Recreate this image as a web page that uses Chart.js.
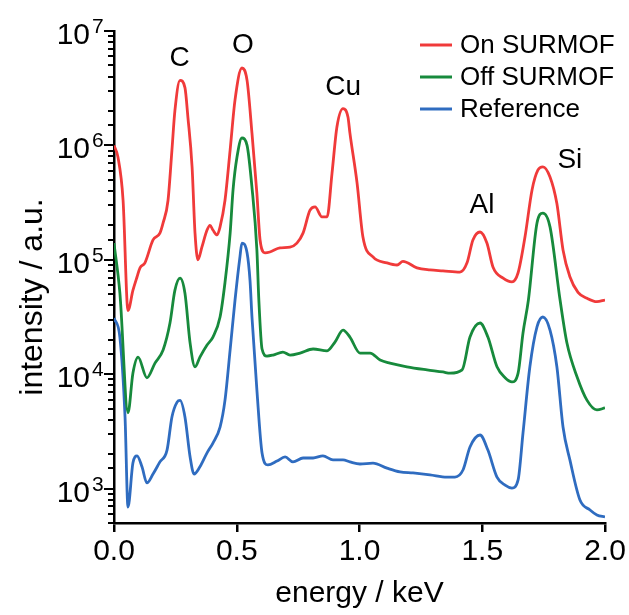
<!DOCTYPE html>
<html>
<head>
<meta charset="utf-8">
<title>EDX spectra</title>
<script src="https://cdn.jsdelivr.net/npm/chart.js@4.4.1/dist/chart.umd.min.js"></script>
<style>
  html, body { margin: 0; padding: 0; background: #fff; }
</style>
</head>
<body>
<canvas id="edsChart" width="629" height="615"></canvas>
<script>
// energy in keV, intensity in a.u.
var onEnergy = [0.000, 0.016, 0.037, 0.057, 0.077, 0.094, 0.106, 0.126, 0.159, 0.187, 0.200, 0.220, 0.236, 0.248, 0.269, 0.289, 0.301, 0.318, 0.330, 0.342, 0.358, 0.379, 0.391, 0.403, 0.420, 0.432, 0.452, 0.473, 0.493, 0.521, 0.542, 0.562, 0.582, 0.595, 0.615, 0.635, 0.676, 0.717, 0.745, 0.770, 0.798, 0.819, 0.847, 0.868, 0.888, 0.908, 0.933, 0.953, 0.961, 0.990, 1.014, 1.055, 1.112, 1.153, 1.177, 1.234, 1.287, 1.340, 1.409, 1.438, 1.462, 1.491, 1.519, 1.544, 1.585, 1.621, 1.646, 1.674, 1.703, 1.727, 1.747, 1.776, 1.804, 1.829, 1.857, 1.890, 1.927, 1.967, 2.000];
var onIntensity = [1.0e6, 7.9e5, 3.3e5, 3.6e4, 5.4e4, 7.1e4, 8.5e4, 9.4e4, 1.49e5, 1.71e5, 2.1e5, 3.3e5, 9.1e5, 2.0e6, 3.7e6, 3.2e6, 1.77e6, 6.5e5, 1.71e5, 1.0e5, 1.29e5, 1.82e5, 2.0e5, 1.82e5, 1.65e5, 1.94e5, 3.3e5, 9.1e5, 2.5e6, 4.75e6, 3.7e6, 1.28e6, 3.8e5, 1.49e5, 1.15e5, 1.17e5, 1.27e5, 1.29e5, 1.40e5, 1.71e5, 2.7e5, 2.9e5, 2.37e5, 2.37e5, 5.7e5, 1.45e6, 2.1e6, 1.77e6, 1.28e6, 4.7e5, 1.58e5, 1.06e5, 9.4e4, 9.0e4, 9.7e4, 8.5e4, 8.15e4, 8.0e4, 7.8e4, 9.4e4, 1.49e5, 1.75e5, 1.40e5, 8.6e4, 6.9e4, 6.4e4, 7.7e4, 1.58e5, 4.1e5, 6.1e5, 6.5e5, 5.3e5, 3.1e5, 1.22e5, 7.1e4, 5.2e4, 4.6e4, 4.3e4, 4.45e4];

var offEnergy = [0.000, 0.024, 0.057, 0.077, 0.098, 0.134, 0.167, 0.200, 0.228, 0.248, 0.269, 0.289, 0.310, 0.330, 0.350, 0.379, 0.403, 0.432, 0.452, 0.473, 0.485, 0.501, 0.521, 0.542, 0.562, 0.582, 0.590, 0.603, 0.623, 0.648, 0.688, 0.717, 0.758, 0.811, 0.868, 0.900, 0.933, 0.961, 1.002, 1.043, 1.084, 1.124, 1.193, 1.275, 1.340, 1.369, 1.418, 1.450, 1.491, 1.523, 1.560, 1.593, 1.621, 1.646, 1.666, 1.688, 1.723, 1.747, 1.776, 1.817, 1.845, 1.886, 1.927, 1.967, 2.000];
var offIntensity = [1.4e5, 5.1e4, 4.6e3, 1.02e4, 1.41e4, 9.3e3, 1.25e4, 1.63e4, 2.8e4, 5.4e4, 6.9e4, 5.1e4, 1.87e4, 1.16e4, 1.41e4, 1.80e4, 2.11e4, 3.16e4, 6.3e4, 1.7e5, 4.1e5, 7.9e5, 1.16e6, 1.0e6, 4.3e5, 1.22e5, 4.45e4, 1.66e4, 1.44e4, 1.47e4, 1.56e4, 1.47e4, 1.53e4, 1.66e4, 1.60e4, 1.91e4, 2.43e4, 2.11e4, 1.53e4, 1.53e4, 1.33e4, 1.25e4, 1.16e4, 1.09e4, 1.045e4, 1.02e4, 1.09e4, 2.11e4, 2.8e4, 2.11e4, 1.16e4, 9.3e3, 8.55e3, 1.02e4, 2.29e4, 4.45e4, 2.1e5, 2.56e5, 1.94e5, 4.45e4, 1.87e4, 9.5e3, 5.9e3, 4.87e3, 5.07e3];

var refEnergy = [0.000, 0.024, 0.045, 0.057, 0.077, 0.094, 0.114, 0.134, 0.159, 0.187, 0.216, 0.236, 0.257, 0.269, 0.289, 0.310, 0.326, 0.350, 0.379, 0.403, 0.432, 0.452, 0.473, 0.493, 0.513, 0.521, 0.542, 0.554, 0.562, 0.582, 0.603, 0.627, 0.664, 0.697, 0.729, 0.770, 0.811, 0.851, 0.892, 0.933, 0.961, 1.002, 1.055, 1.112, 1.165, 1.218, 1.287, 1.356, 1.389, 1.422, 1.450, 1.491, 1.523, 1.560, 1.593, 1.621, 1.646, 1.666, 1.694, 1.723, 1.747, 1.776, 1.804, 1.829, 1.857, 1.898, 1.939, 1.967, 2.000];
var refIntensity = [3.1e4, 2.1e4, 4.2e3, 690, 1.67e3, 1.93e3, 1.55e3, 1.12e3, 1.34e3, 1.71e3, 2.17e3, 4.23e3, 5.7e3, 5.9e3, 4.23e3, 1.89e3, 1.34e3, 1.55e3, 2.05e3, 2.5e3, 3.45e3, 5.9e3, 1.63e4, 4.45e4, 1.06e5, 1.40e5, 1.15e5, 6.6e4, 3.16e4, 7.3e3, 2.05e3, 1.61e3, 1.74e3, 1.89e3, 1.71e3, 1.85e3, 1.85e3, 1.93e3, 1.78e3, 1.78e3, 1.71e3, 1.64e3, 1.67e3, 1.51e3, 1.40e3, 1.37e3, 1.32e3, 1.26e3, 1.26e3, 1.46e3, 2.31e3, 2.94e3, 2.17e3, 1.26e3, 1.07e3, 1.01e3, 1.19e3, 3.06e3, 1.16e4, 2.59e4, 3.16e4, 2.43e4, 1.16e4, 3.45e3, 1.78e3, 794, 650, 588, 565];

// element labels above the peaks
var peakNames = ['C', 'O', 'Cu', 'Al', 'Si'];
var peakEnergy = [0.267, 0.525, 0.933, 1.499, 1.857];
var peakLabelHeight = [5.8e6, 7.5e6, 3.2e6, 3.0e5, 7.4e5];

var xTicks = [0, 0.5, 1.0, 1.5, 2.0];

function toPoints(xs, ys) {
  return xs.map(function (x, i) { return { x: x, y: ys[i] }; });
}

var fontFamily = '"Liberation Sans", Arial, Helvetica, sans-serif';
Chart.defaults.font.family = fontFamily;
Chart.defaults.color = '#000';

// log axis ticks with superscript labels, y title, legend in the plot, peak names
var decorPlugin = {
  id: 'decor',
  afterDraw: function (chart) {
    var ctx = chart.ctx;
    var xs = chart.scales.x;
    var ys = chart.scales.y;
    var left = chart.chartArea.left;
    ctx.save();
    ctx.strokeStyle = '#000';
    ctx.fillStyle = '#000';
    ctx.lineWidth = 2;
    ys.ticks.forEach(function (t) {
      var py = Math.round(ys.getPixelForValue(t.value));
      var exp = Math.log10(t.value);
      var major = Math.abs(exp - Math.round(exp)) < 1e-6;
      var len = major ? 10 : 6;
      ctx.beginPath();
      ctx.moveTo(left - len, py);
      ctx.lineTo(left, py);
      ctx.stroke();
      if (major) {
        ctx.textBaseline = 'alphabetic';
        ctx.textAlign = 'right';
        ctx.font = '30px ' + fontFamily;
        ctx.fillText('10', left - 24, py + 13);
        ctx.textAlign = 'left';
        ctx.font = '21px ' + fontFamily;
        ctx.fillText(String(Math.round(exp)), left - 22, py + 2);
      }
    });

    // y axis title, a little below the axis centre as in the original
    ctx.save();
    ctx.translate(42, 297);
    ctx.rotate(-Math.PI / 2);
    ctx.font = '32px ' + fontFamily;
    ctx.textAlign = 'center';
    ctx.textBaseline = 'alphabetic';
    ctx.fillText('intensity / a.u.', 0, 0);
    ctx.restore();

    // legend
    ctx.font = '26px ' + fontFamily;
    ctx.textAlign = 'left';
    ctx.textBaseline = 'middle';
    chart.data.datasets.forEach(function (ds, i) {
      var ly = 45 + i * 32;
      ctx.strokeStyle = ds.borderColor;
      ctx.lineWidth = 3;
      ctx.beginPath();
      ctx.moveTo(420, ly);
      ctx.lineTo(452, ly);
      ctx.stroke();
      ctx.fillStyle = '#000';
      ctx.fillText(ds.label, 460, ly + 1);
    });

    // peak names
    ctx.font = '28px ' + fontFamily;
    ctx.textAlign = 'center';
    peakNames.forEach(function (name, i) {
      ctx.fillText(name, xs.getPixelForValue(peakEnergy[i]), ys.getPixelForValue(peakLabelHeight[i]));
    });
    ctx.restore();
  }
};

var ctx = document.getElementById('edsChart').getContext('2d');
var edsChart = new Chart(ctx, {
  type: 'line',
  data: {
    datasets: [{
      label: 'On SURMOF',
      data: toPoints(onEnergy, onIntensity),
      borderColor: '#f03a3a',
      borderWidth: 2.8,
      pointRadius: 0,
      cubicInterpolationMode: 'monotone'
    }, {
      label: 'Off SURMOF',
      data: toPoints(offEnergy, offIntensity),
      borderColor: '#178a3c',
      borderWidth: 2.8,
      pointRadius: 0,
      cubicInterpolationMode: 'monotone'
    }, {
      label: 'Reference',
      data: toPoints(refEnergy, refIntensity),
      borderColor: '#2f6cc0',
      borderWidth: 2.8,
      pointRadius: 0,
      cubicInterpolationMode: 'monotone'
    }]
  },
  options: {
    responsive: false,
    animation: false,
    layout: { padding: { top: 31, right: 24, left: 0, bottom: 0 } },
    plugins: {
      legend: { display: false },
      tooltip: { enabled: false }
    },
    scales: {
      x: {
        type: 'linear',
        min: 0,
        max: 2,
        afterBuildTicks: function (scale) {
          scale.ticks = xTicks.map(function (v) { return { value: v }; });
        },
        afterFit: function (scale) {
          scale.height = 92;
          scale.paddingLeft = 0;
          scale.paddingRight = 0;
        },
        ticks: {
          font: { size: 30 },
          padding: 2,
          maxRotation: 0,
          callback: function (v) { return v.toFixed(1); }
        },
        grid: {
          drawOnChartArea: false,
          drawTicks: true,
          tickLength: 9,
          color: '#000',
          lineWidth: 2.5
        },
        border: { display: true, color: '#000', width: 2.5 },
        title: {
          display: true,
          text: 'energy / keV',
          font: { size: 30 },
          padding: { top: 0, bottom: 3 }
        }
      },
      y: {
        type: 'logarithmic',
        min: 500,
        max: 1e7,
        afterFit: function (scale) {
          scale.width = 114;
          scale.paddingTop = 0;
          scale.paddingBottom = 0;
        },
        ticks: { display: false },
        grid: { display: false },
        border: { display: true, color: '#000', width: 2.5 },
        title: { display: false }
      }
    }
  },
  plugins: [decorPlugin]
});
</script>
</body>
</html>
